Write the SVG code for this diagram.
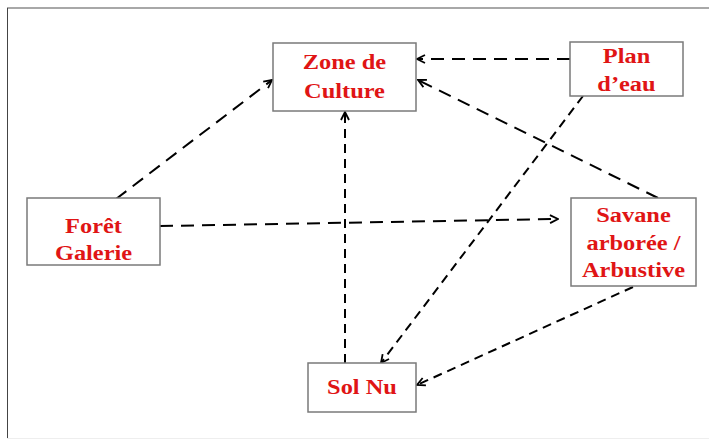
<svg xmlns="http://www.w3.org/2000/svg" width="709" height="443" viewBox="0 0 709 443">
<defs>
<marker id="arr" viewBox="0 0 10 10" refX="9" refY="5" markerWidth="10" markerHeight="10" markerUnits="userSpaceOnUse" orient="auto">
<path d="M1,1 L9,5 L1,9" fill="none" stroke="#000" stroke-width="1.8"/>
</marker>
<style>
.box{fill:#fff;stroke:#7a7a7a;stroke-width:1.5}
.lbl{font-family:"Liberation Serif","Times New Roman",serif;font-weight:bold;font-size:20px;fill:#e01515;text-anchor:middle}
.c{fill:none;stroke:#000;stroke-width:2;stroke-dasharray:13 8;marker-end:url(#arr)}
.s{stroke-dasharray:9 6}
</style>
</defs>
<rect x="0" y="0" width="709" height="443" fill="#fff"/>
<line x1="7" y1="8" x2="709" y2="8" stroke="#a8a8a8" stroke-width="2"/>
<line x1="7.5" y1="8" x2="7.5" y2="438" stroke="#444" stroke-width="1"/>
<line x1="7" y1="438.5" x2="709" y2="438.5" stroke="#eeeeee" stroke-width="1"/>
<g id="connectors">
<line class="c" x1="570" y1="59" x2="417" y2="59"/>
<line class="c" x1="658" y1="198" x2="418" y2="80"/>
<line class="c" x1="116" y1="199" x2="272" y2="80"/>
<line class="c" x1="160" y1="226" x2="558" y2="219"/>
<line class="c s" x1="345" y1="363" x2="345" y2="112"/>
<line class="c s" x1="583" y1="96" x2="381" y2="363"/>
<line class="c s" x1="633" y1="287" x2="417" y2="385"/>
</g>
<g id="zone-culture">
<rect class="box" x="273" y="43" width="143" height="68"/>
<text class="lbl" transform="translate(344.5 69) scale(1.22 1)">Zone de</text>
<text class="lbl" transform="translate(344.5 98) scale(1.22 1)">Culture</text>
</g>
<g id="plan-eau">
<rect class="box" x="570" y="42" width="113" height="54"/>
<text class="lbl" transform="translate(626.5 63) scale(1.22 1)">Plan</text>
<text class="lbl" transform="translate(626.5 91) scale(1.22 1)">d’eau</text>
</g>
<g id="foret-galerie">
<rect class="box" x="27" y="198" width="133" height="67"/>
<text class="lbl" transform="translate(93.5 233) scale(1.22 1)">Forêt</text>
<text class="lbl" transform="translate(93.5 260) scale(1.22 1)">Galerie</text>
</g>
<g id="savane">
<rect class="box" x="571" y="198" width="125" height="88"/>
<text class="lbl" transform="translate(633.5 222) scale(1.22 1)">Savane</text>
<text class="lbl" transform="translate(633.5 250) scale(1.22 1)">arborée /</text>
<text class="lbl" transform="translate(633.5 277) scale(1.22 1)">Arbustive</text>
</g>
<g id="sol-nu">
<rect class="box" x="308" y="363" width="108" height="49"/>
<text class="lbl" transform="translate(362 394) scale(1.22 1)">Sol Nu</text>
</g>
</svg>
